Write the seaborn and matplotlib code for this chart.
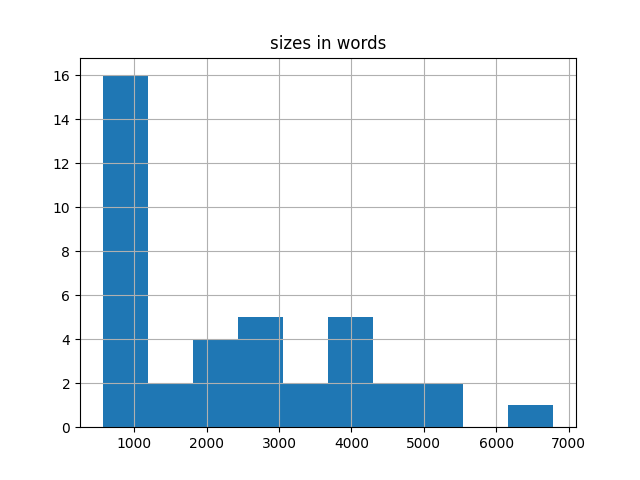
import matplotlib
matplotlib.use("Agg")
import matplotlib.pyplot as plt
import seaborn as sns

# bin edges and counts
bin_edges = [563, 1186, 1808, 2431, 3053, 3676, 4298, 4921, 5544, 6166, 6789]
counts = [16, 2, 4, 5, 2, 5, 2, 2, 0, 1]
centers = [(a + b) / 2 for a, b in zip(bin_edges[:-1], bin_edges[1:])]

fig, ax = plt.subplots(figsize=(6.4, 4.8), dpi=100)
sns.histplot(x=centers, weights=counts, bins=bin_edges, ax=ax,
             color="#1f77b4", alpha=1, edgecolor="none", linewidth=0)
ax.grid(True)
ax.set_title("sizes in words")
ax.set_xlabel("")
ax.set_ylabel("")
fig.savefig("out.png")
